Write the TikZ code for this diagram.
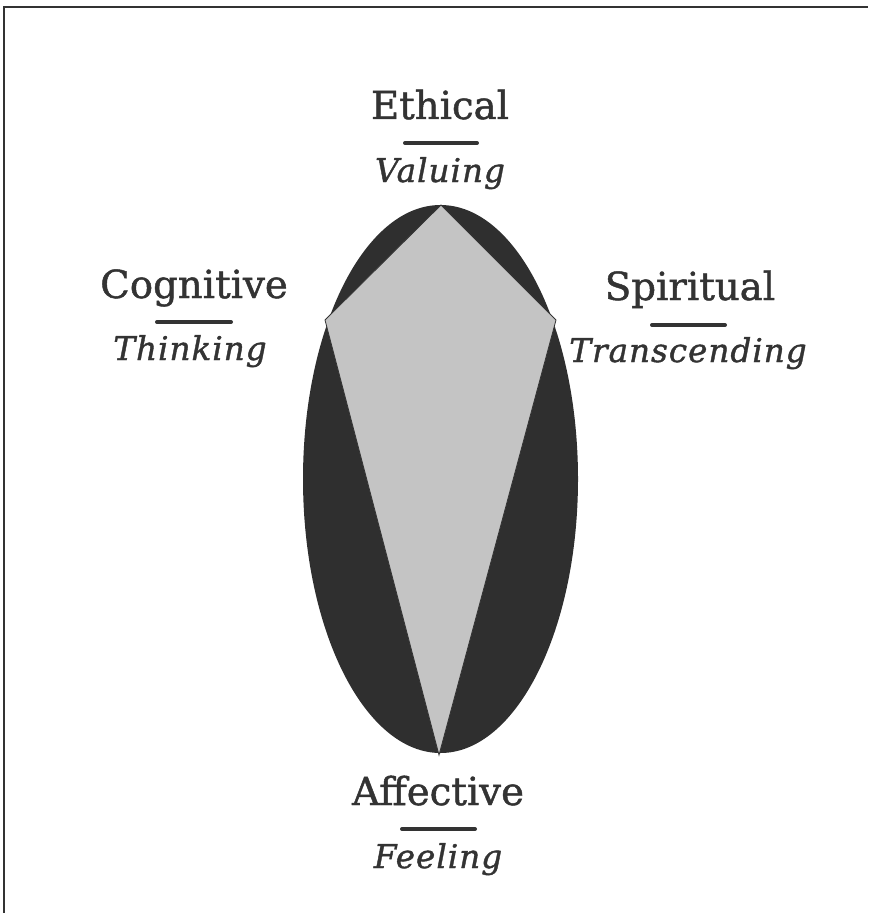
\documentclass[tikz,border=0pt]{standalone}
\usepackage{fontspec}
\setmainfont{DejaVu Serif}
\definecolor{ink}{HTML}{333333}
\definecolor{dark}{HTML}{2F2F2F}
\definecolor{kite}{HTML}{C4C4C4}
\begin{document}
\begin{tikzpicture}[x=0.75pt,y=-0.75pt,
  title/.style={text=ink,font=\fontsize{29}{32}\selectfont\addfontfeature{FakeBold=1.2},inner sep=0pt,anchor=base},
  sub/.style={text=ink,font=\fontsize{24.5}{28}\selectfont\itshape\addfontfeature{FakeBold=1.2,LetterSpace=3},inner sep=0pt,anchor=base},
  bar/.style={draw=ink,line width=3pt,line cap=round},
  frame/.style={draw=black!80,line width=1.5pt}]
\useasboundingbox (0,0) rectangle (868,913);
\draw[frame] (4,913) -- (4,7) -- (868,7);
% ellipse and kite
\fill[dark] (440.5,479) ellipse [x radius=137.5, y radius=274];
\coordinate (kt) at (441,205);
\coordinate (kl) at (325,320);
\coordinate (kr) at (556,320);
\coordinate (kb) at (439,755);
\filldraw[fill=kite,draw=ink,line width=0.6pt] (kt) -- (kr) -- (kb) -- (kl) -- cycle;
% labels
\node[title] (eth) at (440,119) {Ethical};
\draw[bar] (405,143) -- (477,143);
\node[sub] (val) at (440,182) {Valuing};
\node[title] (cog) at (194,298) {Cognitive};
\draw[bar] (157,322) -- (231,322);
\node[sub] (thi) at (190,360) {Thinking};
\node[title] (spi) at (690,300) {Spiritual};
\draw[bar] (652,325) -- (725,325);
\node[sub] (tra) at (688,362) {Transcending};
\node[title] (aff) at (438,805) {Affective};
\draw[bar] (402,829) -- (475,829);
\node[sub] (fee) at (438,868) {Feeling};
\end{tikzpicture}
\end{document}
